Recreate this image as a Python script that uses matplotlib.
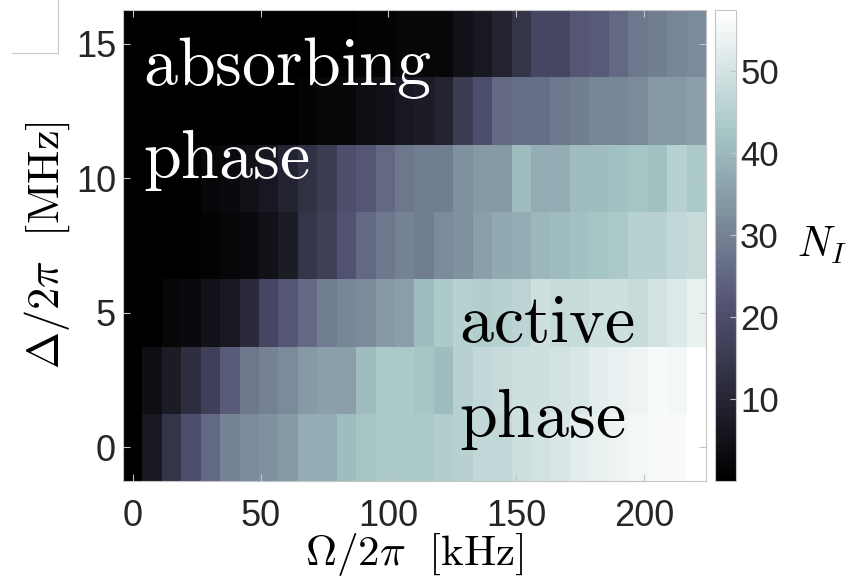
import matplotlib
matplotlib.use("Agg")
import matplotlib.pyplot as plt
from matplotlib.lines import Line2D
import numpy as np

plt.rcParams["font.family"] = ["Liberation Sans", "DejaVu Sans"]
plt.rcParams["mathtext.fontset"] = "cm"

# Rabi frequency Omega/2pi (kHz), one value per column
omega_khz = [0.0, 7.6, 15.2, 22.8, 30.4, 38.0, 45.6, 53.2, 60.8, 68.4,
             76.0, 83.6, 91.2, 98.8, 106.4, 114.0, 121.6, 129.2, 136.8, 144.4,
             152.0, 159.6, 167.2, 174.8, 182.4, 190.0, 197.6, 205.2, 212.8, 220.4]

# detuning Delta/2pi (MHz), one value per row
delta_mhz = [0.0, 2.5, 5.0, 7.5, 10.0, 12.5, 15.0]

# N_I per row (bottom row first)
n_delta_0 = [0, 6.4, 14, 20.4, 25.6, 30, 32, 33.2, 34.5, 38.3, 38.3, 41, 42.7, 43.3, 43.3,
             43.5, 44.5, 45.8, 46.8, 47.6, 48.9, 50, 51, 52.2, 53.3, 54.3, 55, 55.9, 56.2, 57]
n_delta_2p5 = [0, 3.8, 7.2, 12.3, 16.6, 23, 28, 30, 32, 34.5, 35.3, 35.8, 41, 44, 43.5,
               42.5, 41, 45.8, 47.3, 48, 48.9, 49.4, 50, 50.5, 52.2, 53.3, 54.6, 55.9, 55.4, 57]
n_delta_5 = [0, 0, 2, 3, 4.6, 6.4, 11.5, 18, 21.7, 25.6, 29.4, 30.7, 32, 34.5, 35.8,
             41, 44, 45, 44.7, 45.8, 46.4, 48.9, 48, 48, 48.9, 48.9, 48, 49.7, 51.4, 53.3]
n_delta_7p5 = [0, 0, 0, 0, 1.3, 2, 3, 4.6, 7.7, 14, 16.6, 21, 25.6, 28.6, 30,
               29.4, 32, 33, 35.8, 37, 38.3, 39.6, 41, 42, 43, 44, 45, 45.8, 47.3, 48]
n_delta_10 = [0, 0, 0, 0, 2.6, 3, 4.6, 6.4, 9, 12.8, 15.3, 20.4, 21.7, 25.6, 28,
              29.4, 29.4, 33.2, 34.5, 34.5, 41, 38.3, 38.3, 41, 41, 42.2, 43, 41.4, 45.8, 44]
n_delta_12p5 = [0, 0, 0, 0, 0, 0, 0, 0, 0, 1, 2, 2.6, 3.8, 5, 6.4,
                7.2, 9, 15.3, 20.4, 25.6, 26.8, 26.8, 28, 29.4, 30.7, 30.7, 32, 34.5, 34.5, 35.8]
n_delta_15 = [0, 0, 0, 0, 0, 0, 0, 0, 0, 0, 0, 0.5, 1, 1.5, 2,
              2, 2.6, 5, 7, 9, 14, 18, 18.5, 21.7, 23, 25.6, 28, 29.4, 30.7, 32]

x_ticks = [0, 50, 100, 150, 200]
y_ticks = [0, 5, 10, 15]
cbar_ticks = [10, 20, 30, 40, 50]

grid = np.array([n_delta_0, n_delta_2p5, n_delta_5, n_delta_7p5,
                 n_delta_10, n_delta_12p5, n_delta_15])

dx = omega_khz[1] - omega_khz[0]
dy = delta_mhz[1] - delta_mhz[0]
extent = [omega_khz[0] - dx / 2, omega_khz[-1] + dx / 2,
          delta_mhz[0] - dy / 2, delta_mhz[-1] + dy / 2]

W, H = 850, 582
fig = plt.figure(figsize=(W / 100, H / 100), dpi=100)
ax = fig.add_axes([123 / W, 1 - 481 / H, 583 / W, 471 / H])
cax = fig.add_axes([715 / W, 1 - 481 / H, 21 / W, 471 / H])

frame = "#c4c4c4"
im = ax.imshow(grid, origin="lower", extent=extent, aspect="auto",
               cmap=plt.get_cmap("bone", 64), vmin=0, vmax=57.5,
               interpolation="nearest")
ax.set_xlim(extent[0], extent[1])
ax.set_ylim(extent[2], extent[3])
ax.set_xticks(x_ticks)
ax.set_yticks(y_ticks)
ax.tick_params(direction="in", length=5, width=0.8, color=frame,
               labelsize=26, labelcolor="#262626", top=True, right=True)
ax.tick_params(axis="x", pad=13)
ax.tick_params(axis="y", pad=5)
for s in ax.spines.values():
    s.set_color(frame)
    s.set_linewidth(0.8)

ax.set_xlabel(r"$\Omega/2\pi\ \ [\mathrm{kHz}]$", fontsize=31, va="top")
ax.xaxis.set_label_coords(0.5, -0.106)
ax.set_ylabel(r"$\Delta/2\pi\ \ [\mathrm{MHz}]$", fontsize=32, va="bottom")
ax.yaxis.set_label_coords(-0.088, 0.5)

txt = dict(transform=ax.transAxes, fontsize=49, va="baseline", ha="left")
ax.text(0.034, 0.841, r"$\mathrm{absorbing}$", color="white", **txt)
ax.text(0.034, 0.643, r"$\mathrm{phase}$", color="white", **txt)
ax.text(0.577, 0.295, r"$\mathrm{active}$", color="black", **txt)
ax.text(0.577, 0.093, r"$\mathrm{phase}$", color="black", **txt)

cb = fig.colorbar(im, cax=cax, ticks=cbar_ticks)
cb.outline.set_edgecolor(frame)
cb.outline.set_linewidth(0.8)
cax.tick_params(direction="in", length=4, width=0.8, color=frame,
                labelsize=25, labelcolor="#262626", pad=3)
fig.text(822 / W, 1 - 245 / H, r"$N_I$", fontsize=30, ha="center", va="center")

# stray empty box in the top-left corner of the original figure
fig.add_artist(Line2D([12 / W, 58 / W], [1 - 53 / H, 1 - 53 / H], color="#c8c8c8", lw=0.8))
fig.add_artist(Line2D([58 / W, 58 / W], [1 - 53 / H, 1.0], color="#c8c8c8", lw=0.8))

fig.savefig("out.png", dpi=100)
